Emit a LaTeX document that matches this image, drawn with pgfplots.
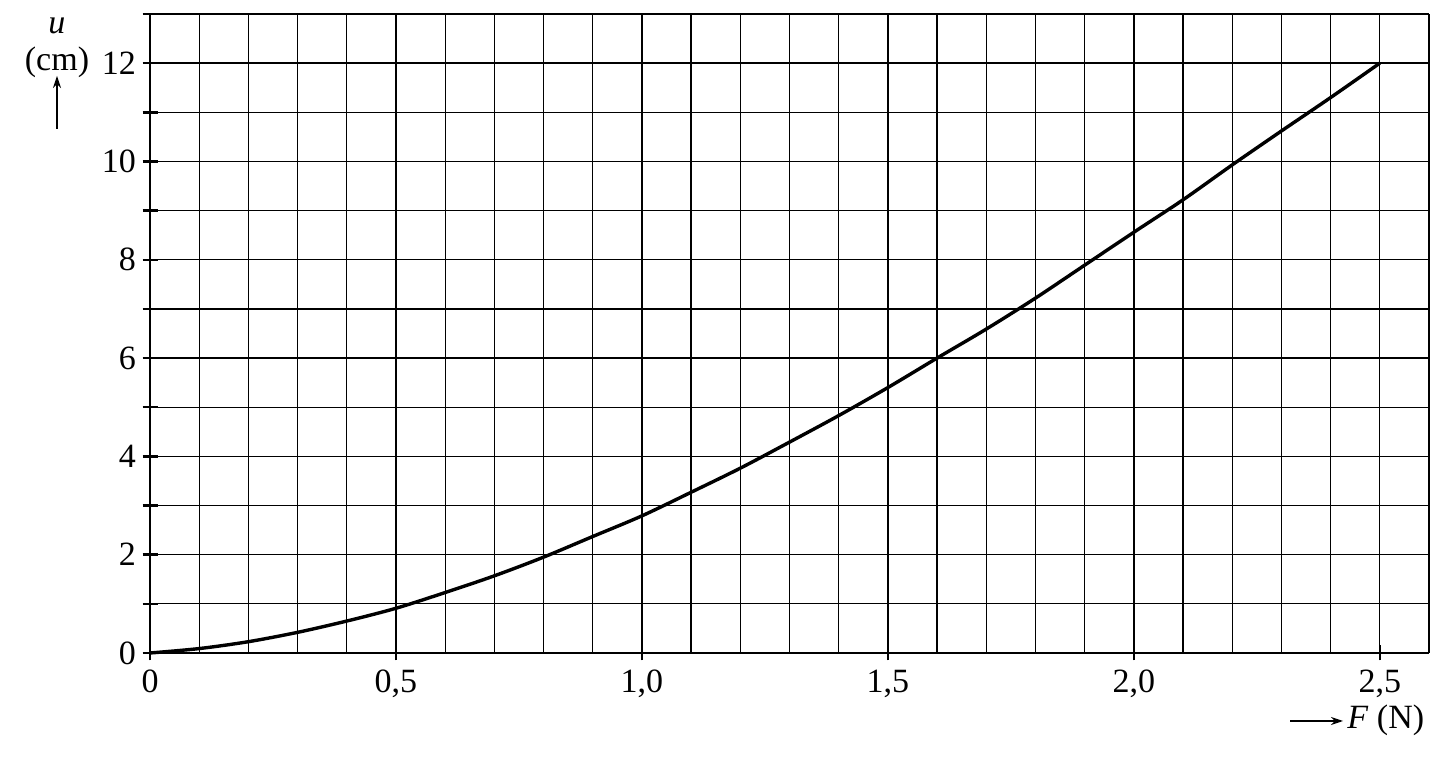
\documentclass[border=0pt]{standalone}
\usepackage{fontspec}
\setmainfont{Liberation Serif}
\usepackage{pgfplots}
\pgfplotsset{compat=1.18}
\usetikzlibrary{arrows.meta}

\begin{document}
\fontsize{17}{20}\selectfont
\begin{tikzpicture}
\path[use as bounding box] (-75pt,-55.5pt) rectangle (653pt,326.5pt);
\begin{axis}[
  scale only axis, width=639.5pt, height=319.5pt,
  at={(0,0)}, anchor=origin,
  xmin=0, xmax=2.6, ymin=0, ymax=13,
  axis lines=left, axis line style={-, line width=1.25pt},
  xtick={0,0.5,1,1.5,2,2.5},
  xticklabels={0,{0,5},{1,0},{1,5},{2,0},{2,5}},
  minor xtick={0.1,0.2,0.3,0.4,0.6,0.7,0.8,0.9,1.1,1.2,1.3,1.4,1.6,1.7,1.8,1.9,2.1,2.2,2.3,2.4,2.6},
  ytick={0,2,4,6,8,10,12},
  yticklabels={0,2,4,6,8,10,12},
  minor ytick={1,3,5,7,9,11,13},
  grid=both,
  major grid style={black, line width=0.65pt},
  minor grid style={black, line width=0.65pt},
  tick align=center,
  major tick length=7.5pt, minor tick length=7.5pt,
  every tick/.style={black, line width=1.25pt},
  minor x tick style={draw=none},
  xticklabel style={yshift=1pt},
  yticklabel style={xshift=2.5pt},
  clip=false,
]
\addplot[black, line width=1.7pt, smooth] coordinates {
  (0,0) (0.1,0.09) (0.2,0.23) (0.3,0.42) (0.4,0.65) (0.5,0.91)
  (0.6,1.23) (0.7,1.57) (0.8,1.95) (0.9,2.37) (1.0,2.79)
  (1.1,3.27) (1.2,3.76) (1.3,4.29) (1.4,4.83) (1.5,5.40)
  (1.6,6.00) (1.7,6.59) (1.8,7.22) (1.9,7.89) (2.0,8.56)
  (2.1,9.22) (2.2,9.93) (2.3,10.62) (2.4,11.30) (2.5,12.00)
};
\end{axis}
% axis labels
\node at (-46.5pt,313.5pt) {\textit{u}};
\node at (-46.5pt,295.5pt) {(cm)};
\draw[line width=0.6pt, -{Stealth[length=6pt,width=4pt]}] (-46.5pt,262pt) -- (-46.5pt,288.5pt);
\draw[line width=0.6pt, -{Stealth[length=6pt,width=4pt]}] (570pt,-34pt) -- (596.5pt,-34pt);
\node[anchor=west, inner sep=0pt] at (598.5pt,-33.5pt) {\textit{F} (N)};
\end{tikzpicture}
\end{document}
